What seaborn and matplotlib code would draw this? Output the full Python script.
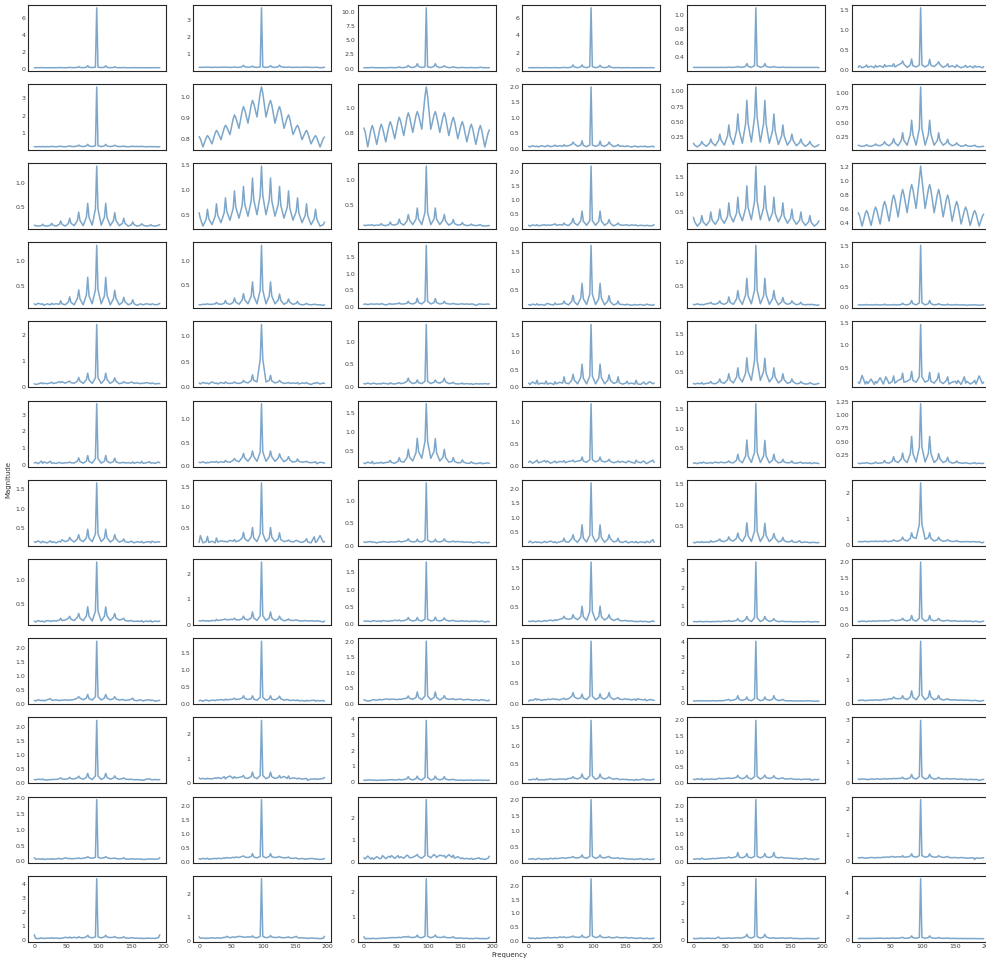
import matplotlib
matplotlib.use('Agg')
import matplotlib.pyplot as plt
from matplotlib.ticker import MaxNLocator
import seaborn as sns

# frequency bins (side lobes sit every ~14 bins around the main line at 97)
FREQ = [0, 2, 6, 11, 13, 15, 20, 25, 27, 29, 34, 39, 41, 43, 48,
        53, 55, 57, 62, 67, 69, 71, 76, 81, 83, 85, 90,
        95, 97, 99, 104, 109, 111, 113, 118, 123, 125, 127, 132,
        137, 139, 141, 146, 151, 153, 155, 160, 165, 167, 169, 174, 179, 181, 183, 188, 193, 195]

# magnitudes, one list per panel (row_col)
mag_1_1 = [0.12, 0.11, 0.12, 0.12, 0.13, 0.12, 0.11, 0.12, 0.12, 0.11, 0.12, 0.12, 0.14, 0.12, 0.11,
           0.13, 0.17, 0.13, 0.12, 0.15, 0.25, 0.15, 0.12, 0.17, 0.36, 0.17, 0.13,
           0.18, 7.20, 0.18, 0.13, 0.17, 0.35, 0.16, 0.12, 0.14, 0.24, 0.14, 0.12,
           0.12, 0.15, 0.12, 0.11, 0.12, 0.13, 0.12, 0.12, 0.11, 0.12, 0.12, 0.11, 0.12, 0.12, 0.11, 0.12, 0.12, 0.12]
mag_1_2 = [0.25, 0.24, 0.25, 0.25, 0.26, 0.25, 0.24, 0.25, 0.25, 0.24, 0.25, 0.25, 0.26, 0.25, 0.24,
           0.25, 0.27, 0.25, 0.24, 0.28, 0.36, 0.28, 0.25, 0.27, 0.32, 0.26, 0.24,
           0.27, 3.70, 0.27, 0.24, 0.27, 0.34, 0.27, 0.24, 0.28, 0.37, 0.28, 0.25,
           0.25, 0.27, 0.25, 0.24, 0.25, 0.25, 0.24, 0.25, 0.25, 0.26, 0.25, 0.24, 0.24, 0.25, 0.25, 0.22, 0.24, 0.25]
mag_1_3 = [0.15, 0.13, 0.14, 0.15, 0.22, 0.15, 0.13, 0.14, 0.15, 0.14, 0.13, 0.15, 0.20, 0.15, 0.14,
           0.18, 0.30, 0.18, 0.15, 0.28, 0.55, 0.28, 0.16, 0.38, 0.85, 0.38, 0.17,
           0.30, 10.80, 0.30, 0.17, 0.38, 0.85, 0.38, 0.16, 0.28, 0.50, 0.28, 0.15,
           0.20, 0.32, 0.20, 0.14, 0.16, 0.22, 0.16, 0.14, 0.15, 0.18, 0.15, 0.13, 0.16, 0.25, 0.16, 0.14, 0.14, 0.15]
mag_1_4 = [0.28, 0.27, 0.28, 0.28, 0.29, 0.28, 0.27, 0.28, 0.30, 0.28, 0.27, 0.28, 0.30, 0.28, 0.27,
           0.29, 0.33, 0.29, 0.28, 0.36, 0.60, 0.36, 0.28, 0.37, 0.60, 0.36, 0.28,
           0.40, 7.20, 0.40, 0.28, 0.36, 0.55, 0.35, 0.28, 0.34, 0.52, 0.34, 0.28,
           0.28, 0.31, 0.28, 0.27, 0.28, 0.29, 0.28, 0.27, 0.28, 0.28, 0.27, 0.28, 0.28, 0.28, 0.27, 0.28, 0.28, 0.27]
mag_1_5 = [0.256, 0.255, 0.255, 0.255, 0.256, 0.255, 0.255, 0.255, 0.256, 0.255, 0.255, 0.255, 0.257, 0.255, 0.255,
           0.256, 0.260, 0.256, 0.255, 0.260, 0.270, 0.260, 0.256, 0.270, 0.310, 0.270, 0.257,
           0.280, 1.110, 0.280, 0.257, 0.270, 0.310, 0.270, 0.256, 0.260, 0.270, 0.260, 0.255,
           0.256, 0.260, 0.256, 0.255, 0.255, 0.256, 0.255, 0.255, 0.255, 0.256, 0.255, 0.255, 0.255, 0.255, 0.255,
           0.255, 0.255, 0.250]
mag_1_6 = [0.06, 0.10, 0.05, 0.08, 0.12, 0.06, 0.09, 0.05, 0.11, 0.07, 0.10, 0.06, 0.13, 0.08, 0.10,
           0.09, 0.15, 0.07, 0.12, 0.16, 0.22, 0.14, 0.06, 0.12, 0.27, 0.10, 0.07,
           0.12, 1.55, 0.12, 0.07, 0.12, 0.26, 0.11, 0.08, 0.15, 0.20, 0.13, 0.06,
           0.10, 0.15, 0.07, 0.10, 0.06, 0.12, 0.09, 0.05, 0.08, 0.11, 0.06, 0.09, 0.05, 0.10, 0.07, 0.08, 0.05, 0.08]

mag_2_1 = [0.22, 0.21, 0.22, 0.21, 0.23, 0.21, 0.22, 0.21, 0.24, 0.22, 0.21, 0.23, 0.25, 0.22, 0.21,
           0.24, 0.26, 0.23, 0.22, 0.25, 0.31, 0.25, 0.22, 0.26, 0.35, 0.26, 0.22,
           0.27, 3.65, 0.27, 0.22, 0.26, 0.35, 0.26, 0.22, 0.25, 0.30, 0.25, 0.22,
           0.23, 0.26, 0.22, 0.21, 0.23, 0.25, 0.22, 0.23, 0.22, 0.24, 0.22, 0.21, 0.22, 0.22, 0.21, 0.22, 0.20, 0.22]
mag_2_2 = [0.81, 0.80, 0.76, 0.804, 0.815, 0.807, 0.775, 0.827, 0.84, 0.831, 0.795, 0.851, 0.865, 0.856, 0.82,
           0.896, 0.915, 0.902, 0.85, 0.934, 0.955, 0.939, 0.875, 0.963, 0.985, 0.969, 0.905,
           1.021, 1.05, 1.021, 0.905, 0.969, 0.985, 0.963, 0.875, 0.939, 0.955, 0.934, 0.85,
           0.902, 0.915, 0.896, 0.82, 0.856, 0.865, 0.851, 0.795, 0.831, 0.84, 0.827, 0.775, 0.807, 0.815, 0.804,
           0.76, 0.80, 0.808]
mag_2_3 = [0.84, 0.81, 0.69, 0.826, 0.86, 0.83, 0.71, 0.838, 0.87, 0.842, 0.73, 0.858, 0.89, 0.863, 0.755,
           0.891, 0.925, 0.896, 0.78, 0.924, 0.96, 0.929, 0.805, 0.937, 0.97, 0.942, 0.83,
           1.094, 1.165, 1.094, 0.83, 0.942, 0.97, 0.937, 0.805, 0.929, 0.96, 0.924, 0.78,
           0.896, 0.925, 0.891, 0.755, 0.863, 0.89, 0.858, 0.73, 0.842, 0.87, 0.838, 0.71, 0.83, 0.86, 0.826,
           0.69, 0.80, 0.825]
mag_2_4 = [0.08, 0.06, 0.10, 0.07, 0.09, 0.06, 0.10, 0.07, 0.08, 0.11, 0.07, 0.09, 0.12, 0.08, 0.10,
           0.08, 0.13, 0.09, 0.10, 0.14, 0.22, 0.16, 0.08, 0.12, 0.26, 0.11, 0.07,
           0.12, 2.00, 0.12, 0.08, 0.12, 0.25, 0.11, 0.08, 0.14, 0.22, 0.15, 0.07,
           0.10, 0.14, 0.08, 0.09, 0.07, 0.10, 0.08, 0.06, 0.09, 0.08, 0.06, 0.08, 0.07, 0.09, 0.06, 0.07, 0.08, 0.06]
mag_2_5 = [0.15, 0.12, 0.09, 0.13, 0.18, 0.14, 0.10, 0.154, 0.22, 0.16, 0.11, 0.196, 0.30, 0.20, 0.12,
           0.27, 0.45, 0.27, 0.13, 0.355, 0.63, 0.36, 0.15, 0.465, 0.85, 0.47, 0.17,
           0.575, 1.07, 0.575, 0.17, 0.47, 0.85, 0.465, 0.15, 0.36, 0.63, 0.355, 0.13,
           0.27, 0.45, 0.27, 0.12, 0.20, 0.30, 0.196, 0.11, 0.16, 0.22, 0.154, 0.10, 0.14, 0.18, 0.13, 0.09, 0.11, 0.13]
mag_2_6 = [0.12, 0.11, 0.10, 0.11, 0.13, 0.11, 0.10, 0.12, 0.14, 0.12, 0.11, 0.14, 0.18, 0.14, 0.11,
           0.16, 0.23, 0.16, 0.11, 0.20, 0.33, 0.20, 0.12, 0.30, 0.54, 0.30, 0.12,
           0.40, 1.10, 0.40, 0.12, 0.30, 0.54, 0.30, 0.12, 0.20, 0.33, 0.20, 0.12,
           0.16, 0.22, 0.15, 0.11, 0.13, 0.16, 0.13, 0.10, 0.11, 0.13, 0.11, 0.10, 0.11, 0.12, 0.10, 0.09, 0.10, 0.10]

mag_3_1 = [0.10, 0.09, 0.08, 0.09, 0.12, 0.09, 0.08, 0.10, 0.14, 0.10, 0.08, 0.12, 0.19, 0.12, 0.08,
           0.14, 0.25, 0.14, 0.09, 0.20, 0.38, 0.20, 0.09, 0.27, 0.57, 0.27, 0.10,
           0.45, 1.37, 0.45, 0.10, 0.27, 0.57, 0.27, 0.09, 0.20, 0.37, 0.20, 0.09,
           0.14, 0.25, 0.14, 0.08, 0.11, 0.17, 0.11, 0.08, 0.10, 0.13, 0.10, 0.08, 0.09, 0.11, 0.09, 0.08, 0.10, 0.11]
mag_3_2 = [0.54, 0.42, 0.27, 0.41, 0.61, 0.42, 0.30, 0.47, 0.72, 0.49, 0.34, 0.54, 0.84, 0.57, 0.39,
           0.63, 0.98, 0.65, 0.43, 0.69, 1.07, 0.71, 0.47, 0.78, 1.24, 0.80, 0.50,
           0.89, 1.48, 0.89, 0.50, 0.80, 1.24, 0.78, 0.47, 0.71, 1.07, 0.69, 0.43,
           0.65, 0.98, 0.63, 0.39, 0.57, 0.84, 0.54, 0.34, 0.49, 0.72, 0.47, 0.30, 0.42, 0.61, 0.41, 0.27, 0.30, 0.35]
mag_3_3 = [0.10, 0.09, 0.10, 0.10, 0.11, 0.09, 0.10, 0.10, 0.13, 0.10, 0.09, 0.11, 0.16, 0.11, 0.10,
           0.13, 0.22, 0.14, 0.10, 0.18, 0.31, 0.20, 0.11, 0.22, 0.44, 0.22, 0.11,
           0.35, 1.27, 0.35, 0.11, 0.22, 0.44, 0.22, 0.11, 0.20, 0.31, 0.18, 0.10,
           0.14, 0.21, 0.13, 0.10, 0.11, 0.15, 0.11, 0.09, 0.10, 0.12, 0.10, 0.09, 0.10, 0.11, 0.09, 0.08, 0.09, 0.09]
mag_3_4 = [0.12, 0.09, 0.13, 0.11, 0.14, 0.10, 0.12, 0.14, 0.11, 0.13, 0.12, 0.15, 0.17, 0.12, 0.14,
           0.13, 0.20, 0.14, 0.11, 0.22, 0.36, 0.20, 0.12, 0.28, 0.62, 0.26, 0.12,
           0.28, 2.20, 0.28, 0.12, 0.26, 0.62, 0.27, 0.12, 0.20, 0.32, 0.19, 0.10,
           0.15, 0.20, 0.14, 0.12, 0.13, 0.14, 0.11, 0.13, 0.12, 0.13, 0.10, 0.12, 0.11, 0.10, 0.12, 0.10, 0.11, 0.14]
mag_3_5 = [0.35, 0.22, 0.10, 0.205, 0.40, 0.22, 0.12, 0.25, 0.50, 0.27, 0.15, 0.30, 0.58, 0.32, 0.18,
           0.38, 0.76, 0.41, 0.22, 0.465, 0.92, 0.485, 0.25, 0.60, 1.24, 0.62, 0.28,
           0.81, 1.80, 0.81, 0.28, 0.62, 1.24, 0.60, 0.25, 0.485, 0.92, 0.465, 0.22,
           0.41, 0.76, 0.38, 0.18, 0.32, 0.58, 0.30, 0.15, 0.27, 0.50, 0.25, 0.12, 0.22, 0.40, 0.205, 0.10, 0.18, 0.25]
mag_3_6 = [0.55, 0.51, 0.36, 0.54, 0.58, 0.54, 0.37, 0.58, 0.63, 0.58, 0.39, 0.65, 0.71, 0.65, 0.43,
           0.73, 0.80, 0.74, 0.49, 0.80, 0.88, 0.81, 0.55, 0.87, 0.95, 0.88, 0.61,
           1.03, 1.21, 1.03, 0.61, 0.88, 0.95, 0.87, 0.55, 0.81, 0.88, 0.80, 0.49,
           0.74, 0.80, 0.73, 0.43, 0.65, 0.71, 0.65, 0.39, 0.58, 0.63, 0.58, 0.37, 0.54, 0.58, 0.54, 0.36, 0.50, 0.53]

mag_4_1 = [0.14, 0.12, 0.15, 0.13, 0.14, 0.11, 0.14, 0.12, 0.15, 0.13, 0.14, 0.13, 0.20, 0.14, 0.12,
           0.18, 0.28, 0.17, 0.12, 0.25, 0.42, 0.24, 0.12, 0.32, 0.67, 0.30, 0.14,
           0.42, 1.31, 0.42, 0.14, 0.30, 0.67, 0.32, 0.12, 0.24, 0.41, 0.25, 0.12,
           0.17, 0.27, 0.18, 0.12, 0.15, 0.22, 0.14, 0.11, 0.14, 0.13, 0.12, 0.14, 0.13, 0.12, 0.14, 0.12, 0.13, 0.15]
mag_4_2 = [0.10, 0.10, 0.11, 0.11, 0.12, 0.11, 0.11, 0.12, 0.15, 0.12, 0.11, 0.13, 0.19, 0.13, 0.11,
           0.15, 0.24, 0.16, 0.11, 0.20, 0.33, 0.20, 0.12, 0.28, 0.57, 0.28, 0.12,
           0.40, 1.32, 0.40, 0.12, 0.28, 0.57, 0.28, 0.12, 0.20, 0.32, 0.19, 0.11,
           0.15, 0.22, 0.15, 0.11, 0.13, 0.17, 0.12, 0.10, 0.11, 0.13, 0.11, 0.10, 0.11, 0.11, 0.10, 0.10, 0.09, 0.10]
mag_4_3 = [0.09, 0.10, 0.08, 0.10, 0.10, 0.09, 0.10, 0.09, 0.11, 0.10, 0.07, 0.10, 0.11, 0.09, 0.10,
           0.11, 0.13, 0.10, 0.10, 0.12, 0.18, 0.12, 0.10, 0.14, 0.27, 0.14, 0.10,
           0.18, 1.84, 0.18, 0.10, 0.14, 0.26, 0.14, 0.10, 0.12, 0.18, 0.12, 0.10,
           0.10, 0.12, 0.10, 0.09, 0.10, 0.11, 0.09, 0.10, 0.09, 0.10, 0.10, 0.06, 0.10, 0.10, 0.09, 0.09, 0.10, 0.09]
mag_4_4 = [0.13, 0.11, 0.14, 0.12, 0.15, 0.12, 0.13, 0.11, 0.14, 0.16, 0.13, 0.12, 0.17, 0.13, 0.14,
           0.15, 0.22, 0.16, 0.12, 0.22, 0.37, 0.20, 0.12, 0.30, 0.68, 0.28, 0.13,
           0.40, 1.67, 0.40, 0.13, 0.28, 0.68, 0.30, 0.12, 0.22, 0.36, 0.20, 0.12,
           0.15, 0.22, 0.14, 0.13, 0.12, 0.14, 0.13, 0.11, 0.13, 0.12, 0.12, 0.13, 0.11, 0.12, 0.14, 0.12, 0.11, 0.13]
mag_4_5 = [0.13, 0.12, 0.14, 0.12, 0.13, 0.12, 0.14, 0.15, 0.17, 0.14, 0.13, 0.16, 0.20, 0.15, 0.13,
           0.17, 0.28, 0.17, 0.13, 0.24, 0.41, 0.24, 0.13, 0.32, 0.66, 0.30, 0.14,
           0.42, 1.33, 0.42, 0.14, 0.30, 0.66, 0.32, 0.13, 0.24, 0.41, 0.24, 0.12,
           0.18, 0.27, 0.17, 0.13, 0.15, 0.20, 0.16, 0.12, 0.14, 0.17, 0.13, 0.12, 0.13, 0.12, 0.13, 0.12, 0.11, 0.12]
mag_4_6 = [0.05, 0.05, 0.05, 0.05, 0.06, 0.05, 0.05, 0.05, 0.06, 0.05, 0.05, 0.05, 0.07, 0.05, 0.05,
           0.05, 0.06, 0.05, 0.05, 0.06, 0.09, 0.06, 0.05, 0.08, 0.16, 0.08, 0.05,
           0.10, 1.52, 0.10, 0.05, 0.08, 0.16, 0.08, 0.05, 0.06, 0.08, 0.06, 0.05,
           0.05, 0.07, 0.05, 0.05, 0.05, 0.06, 0.05, 0.05, 0.05, 0.05, 0.04, 0.05, 0.05, 0.05, 0.05, 0.04, 0.05, 0.05]

mag_5_1 = [0.12, 0.09, 0.11, 0.16, 0.12, 0.14, 0.12, 0.15, 0.18, 0.13, 0.15, 0.20, 0.16, 0.20, 0.14,
           0.20, 0.22, 0.16, 0.14, 0.22, 0.36, 0.22, 0.13, 0.28, 0.53, 0.27, 0.13,
           0.35, 2.42, 0.35, 0.13, 0.27, 0.53, 0.28, 0.13, 0.22, 0.35, 0.21, 0.12,
           0.15, 0.20, 0.16, 0.14, 0.18, 0.17, 0.13, 0.15, 0.12, 0.14, 0.13, 0.16, 0.14, 0.12, 0.15, 0.11, 0.13, 0.12]
mag_5_2 = [0.08, 0.06, 0.09, 0.07, 0.08, 0.06, 0.10, 0.07, 0.08, 0.06, 0.09, 0.07, 0.10, 0.08, 0.07,
           0.08, 0.10, 0.08, 0.07, 0.09, 0.13, 0.10, 0.08, 0.13, 0.24, 0.13, 0.10,
           0.55, 1.23, 0.55, 0.10, 0.13, 0.23, 0.12, 0.08, 0.10, 0.13, 0.10, 0.07,
           0.08, 0.09, 0.07, 0.08, 0.07, 0.09, 0.06, 0.08, 0.07, 0.09, 0.07, 0.05, 0.08, 0.07, 0.09, 0.06, 0.08, 0.07]
mag_5_3 = [0.07, 0.06, 0.08, 0.06, 0.07, 0.08, 0.06, 0.07, 0.06, 0.08, 0.07, 0.06, 0.09, 0.07, 0.06,
           0.08, 0.09, 0.07, 0.08, 0.12, 0.19, 0.12, 0.07, 0.09, 0.15, 0.09, 0.07,
           0.12, 1.38, 0.12, 0.07, 0.10, 0.15, 0.10, 0.08, 0.12, 0.19, 0.11, 0.07,
           0.08, 0.10, 0.07, 0.06, 0.07, 0.08, 0.06, 0.07, 0.06, 0.07, 0.05, 0.07, 0.06, 0.07, 0.06, 0.07, 0.06, 0.07]
mag_5_4 = [0.12, 0.08, 0.15, 0.10, 0.20, 0.09, 0.12, 0.10, 0.18, 0.09, 0.12, 0.08, 0.16, 0.10, 0.14,
           0.12, 0.30, 0.13, 0.10, 0.20, 0.37, 0.20, 0.10, 0.28, 0.66, 0.26, 0.10,
           0.32, 1.79, 0.32, 0.10, 0.26, 0.66, 0.28, 0.10, 0.20, 0.36, 0.20, 0.11,
           0.14, 0.30, 0.13, 0.09, 0.12, 0.17, 0.10, 0.12, 0.09, 0.20, 0.10, 0.08, 0.15, 0.10, 0.09, 0.16, 0.10, 0.12]
mag_5_5 = [0.18, 0.16, 0.18, 0.17, 0.20, 0.16, 0.18, 0.19, 0.23, 0.18, 0.17, 0.22, 0.30, 0.21, 0.18,
           0.28, 0.44, 0.27, 0.19, 0.35, 0.60, 0.34, 0.22, 0.45, 0.87, 0.50, 0.26,
           0.80, 1.77, 0.80, 0.26, 0.50, 0.86, 0.45, 0.22, 0.34, 0.60, 0.35, 0.19,
           0.27, 0.44, 0.28, 0.18, 0.21, 0.30, 0.22, 0.17, 0.18, 0.23, 0.19, 0.16, 0.17, 0.20, 0.18, 0.15, 0.17, 0.18]
mag_5_6 = [0.18, 0.15, 0.33, 0.14, 0.20, 0.15, 0.25, 0.13, 0.20, 0.16, 0.28, 0.14, 0.22, 0.30, 0.15,
           0.20, 0.32, 0.16, 0.22, 0.25, 0.38, 0.18, 0.20, 0.25, 0.42, 0.22, 0.18,
           0.30, 1.46, 0.30, 0.18, 0.22, 0.40, 0.20, 0.16, 0.25, 0.38, 0.20, 0.15,
           0.22, 0.30, 0.14, 0.18, 0.20, 0.15, 0.22, 0.13, 0.30, 0.16, 0.20, 0.14, 0.18, 0.22, 0.14, 0.32, 0.15, 0.18]

mag_6_1 = [0.14, 0.18, 0.10, 0.25, 0.12, 0.20, 0.13, 0.24, 0.12, 0.15, 0.11, 0.18, 0.14, 0.12, 0.15,
           0.16, 0.20, 0.15, 0.14, 0.25, 0.44, 0.22, 0.13, 0.25, 0.58, 0.24, 0.13,
           0.40, 3.64, 0.40, 0.13, 0.24, 0.58, 0.25, 0.14, 0.22, 0.42, 0.20, 0.14,
           0.16, 0.18, 0.14, 0.16, 0.13, 0.20, 0.12, 0.18, 0.14, 0.24, 0.12, 0.15, 0.22, 0.13, 0.16, 0.12, 0.20, 0.15]
mag_6_2 = [0.08, 0.07, 0.09, 0.06, 0.08, 0.07, 0.09, 0.08, 0.10, 0.07, 0.09, 0.08, 0.12, 0.09, 0.08,
           0.12, 0.16, 0.12, 0.09, 0.18, 0.27, 0.17, 0.10, 0.20, 0.32, 0.20, 0.10,
           0.30, 1.33, 0.30, 0.10, 0.20, 0.32, 0.20, 0.10, 0.17, 0.26, 0.18, 0.09,
           0.14, 0.20, 0.13, 0.08, 0.10, 0.15, 0.10, 0.08, 0.09, 0.10, 0.08, 0.07, 0.08, 0.09, 0.05, 0.08, 0.07, 0.06]
mag_6_3 = [0.18, 0.16, 0.20, 0.17, 0.22, 0.16, 0.18, 0.18, 0.20, 0.17, 0.19, 0.20, 0.25, 0.19, 0.17,
           0.22, 0.32, 0.22, 0.20, 0.32, 0.54, 0.33, 0.23, 0.45, 0.83, 0.48, 0.30,
           0.75, 1.74, 0.75, 0.30, 0.48, 0.82, 0.45, 0.23, 0.33, 0.54, 0.32, 0.20,
           0.22, 0.32, 0.22, 0.18, 0.19, 0.26, 0.20, 0.17, 0.17, 0.21, 0.18, 0.16, 0.17, 0.19, 0.16, 0.17, 0.18, 0.17]
mag_6_4 = [0.09, 0.12, 0.07, 0.11, 0.14, 0.08, 0.10, 0.13, 0.09, 0.12, 0.07, 0.10, 0.12, 0.08, 0.11,
           0.10, 0.13, 0.08, 0.11, 0.12, 0.14, 0.10, 0.12, 0.13, 0.21, 0.12, 0.09,
           0.15, 1.42, 0.15, 0.10, 0.13, 0.21, 0.12, 0.10, 0.12, 0.16, 0.11, 0.08,
           0.10, 0.12, 0.09, 0.11, 0.08, 0.10, 0.12, 0.09, 0.07, 0.14, 0.10, 0.08, 0.12, 0.09, 0.06, 0.10, 0.14, 0.09]
mag_6_5 = [0.12, 0.13, 0.11, 0.14, 0.12, 0.15, 0.12, 0.13, 0.14, 0.12, 0.15, 0.13, 0.14, 0.15, 0.13,
           0.15, 0.18, 0.14, 0.13, 0.20, 0.35, 0.20, 0.13, 0.30, 0.71, 0.30, 0.14,
           0.40, 1.63, 0.40, 0.14, 0.30, 0.70, 0.30, 0.13, 0.20, 0.35, 0.20, 0.13,
           0.15, 0.22, 0.15, 0.13, 0.14, 0.18, 0.13, 0.12, 0.14, 0.15, 0.12, 0.13, 0.12, 0.14, 0.11, 0.13, 0.12, 0.11]
mag_6_6 = [0.10, 0.09, 0.10, 0.10, 0.11, 0.10, 0.09, 0.10, 0.12, 0.10, 0.10, 0.11, 0.15, 0.11, 0.10,
           0.14, 0.22, 0.14, 0.11, 0.18, 0.29, 0.17, 0.11, 0.28, 0.60, 0.28, 0.12,
           0.40, 1.21, 0.40, 0.12, 0.28, 0.60, 0.28, 0.11, 0.17, 0.28, 0.18, 0.11,
           0.14, 0.21, 0.13, 0.10, 0.11, 0.14, 0.11, 0.10, 0.10, 0.11, 0.10, 0.09, 0.10, 0.11, 0.09, 0.10, 0.09, 0.10]

mag_7_1 = [0.15, 0.13, 0.17, 0.12, 0.16, 0.14, 0.12, 0.17, 0.13, 0.15, 0.12, 0.16, 0.14, 0.20, 0.15,
           0.18, 0.26, 0.20, 0.14, 0.22, 0.33, 0.20, 0.15, 0.25, 0.47, 0.24, 0.15,
           0.35, 1.66, 0.35, 0.15, 0.24, 0.47, 0.25, 0.14, 0.20, 0.33, 0.22, 0.14,
           0.17, 0.22, 0.15, 0.13, 0.16, 0.14, 0.12, 0.15, 0.13, 0.16, 0.12, 0.14, 0.15, 0.12, 0.16, 0.13, 0.15, 0.14]
mag_7_2 = [0.13, 0.30, 0.12, 0.15, 0.28, 0.13, 0.16, 0.12, 0.24, 0.14, 0.17, 0.15, 0.16, 0.14, 0.18,
           0.16, 0.20, 0.15, 0.17, 0.24, 0.38, 0.22, 0.16, 0.26, 0.50, 0.24, 0.15,
           0.35, 1.61, 0.35, 0.15, 0.24, 0.50, 0.26, 0.15, 0.22, 0.37, 0.20, 0.15,
           0.17, 0.19, 0.16, 0.14, 0.18, 0.17, 0.15, 0.13, 0.17, 0.22, 0.14, 0.12, 0.27, 0.13, 0.15, 0.30, 0.14, 0.15]
mag_7_3 = [0.08, 0.07, 0.08, 0.09, 0.07, 0.08, 0.06, 0.08, 0.07, 0.09, 0.08, 0.07, 0.09, 0.08, 0.08,
           0.09, 0.10, 0.08, 0.09, 0.11, 0.15, 0.10, 0.08, 0.09, 0.14, 0.09, 0.08,
           0.12, 1.40, 0.12, 0.08, 0.09, 0.14, 0.09, 0.08, 0.10, 0.15, 0.10, 0.08,
           0.09, 0.10, 0.08, 0.09, 0.08, 0.09, 0.07, 0.08, 0.07, 0.08, 0.06, 0.07, 0.08, 0.07, 0.06, 0.07, 0.06, 0.07]
mag_7_4 = [0.15, 0.20, 0.14, 0.18, 0.15, 0.17, 0.14, 0.19, 0.15, 0.16, 0.20, 0.15, 0.18, 0.14, 0.17,
           0.20, 0.30, 0.18, 0.16, 0.28, 0.42, 0.25, 0.16, 0.32, 0.76, 0.30, 0.17,
           0.40, 2.20, 0.40, 0.17, 0.30, 0.76, 0.32, 0.16, 0.26, 0.42, 0.28, 0.17,
           0.20, 0.30, 0.18, 0.15, 0.20, 0.16, 0.14, 0.18, 0.15, 0.19, 0.14, 0.17, 0.16, 0.14, 0.19, 0.15, 0.25, 0.16]
mag_7_5 = [0.12, 0.11, 0.13, 0.12, 0.14, 0.12, 0.13, 0.12, 0.16, 0.13, 0.14, 0.17, 0.20, 0.15, 0.14,
           0.18, 0.25, 0.18, 0.15, 0.22, 0.34, 0.22, 0.14, 0.28, 0.58, 0.28, 0.14,
           0.38, 1.52, 0.38, 0.14, 0.28, 0.57, 0.28, 0.14, 0.22, 0.33, 0.22, 0.13,
           0.16, 0.24, 0.16, 0.13, 0.14, 0.17, 0.13, 0.12, 0.16, 0.12, 0.12, 0.13, 0.12, 0.11, 0.12, 0.12, 0.11, 0.12]
mag_7_6 = [0.12, 0.13, 0.12, 0.14, 0.13, 0.12, 0.14, 0.13, 0.15, 0.13, 0.14, 0.13, 0.17, 0.14, 0.13,
           0.15, 0.20, 0.16, 0.14, 0.20, 0.30, 0.20, 0.15, 0.25, 0.47, 0.30, 0.25,
           0.80, 2.41, 0.80, 0.22, 0.28, 0.47, 0.25, 0.15, 0.20, 0.30, 0.20, 0.14,
           0.16, 0.20, 0.16, 0.13, 0.14, 0.17, 0.13, 0.12, 0.13, 0.12, 0.13, 0.12, 0.13, 0.12, 0.11, 0.12, 0.08, 0.11]

mag_8_1 = [0.14, 0.12, 0.15, 0.13, 0.14, 0.12, 0.15, 0.14, 0.13, 0.15, 0.14, 0.16, 0.20, 0.15, 0.16,
           0.20, 0.24, 0.18, 0.15, 0.22, 0.30, 0.20, 0.15, 0.25, 0.44, 0.24, 0.14,
           0.35, 1.38, 0.35, 0.14, 0.24, 0.44, 0.25, 0.15, 0.22, 0.30, 0.20, 0.16,
           0.18, 0.20, 0.15, 0.14, 0.15, 0.14, 0.13, 0.14, 0.13, 0.15, 0.12, 0.14, 0.13, 0.15, 0.12, 0.14, 0.13, 0.14]
mag_8_2 = [0.15, 0.14, 0.16, 0.14, 0.15, 0.13, 0.16, 0.15, 0.20, 0.16, 0.18, 0.20, 0.22, 0.18, 0.20,
           0.20, 0.25, 0.19, 0.18, 0.22, 0.33, 0.22, 0.18, 0.26, 0.50, 0.26, 0.16,
           0.35, 2.47, 0.35, 0.16, 0.26, 0.50, 0.26, 0.16, 0.22, 0.33, 0.22, 0.15,
           0.18, 0.22, 0.17, 0.16, 0.18, 0.17, 0.15, 0.14, 0.16, 0.15, 0.14, 0.15, 0.14, 0.13, 0.15, 0.13, 0.10, 0.14]
mag_8_3 = [0.10, 0.09, 0.10, 0.08, 0.10, 0.11, 0.09, 0.10, 0.08, 0.11, 0.10, 0.09, 0.11, 0.10, 0.12,
           0.11, 0.13, 0.10, 0.11, 0.14, 0.20, 0.13, 0.10, 0.12, 0.20, 0.12, 0.10,
           0.15, 1.80, 0.15, 0.10, 0.12, 0.21, 0.12, 0.10, 0.13, 0.19, 0.13, 0.10,
           0.11, 0.12, 0.10, 0.09, 0.10, 0.11, 0.09, 0.10, 0.08, 0.10, 0.09, 0.10, 0.08, 0.09, 0.10, 0.07, 0.09, 0.08]
mag_8_4 = [0.13, 0.12, 0.14, 0.12, 0.13, 0.14, 0.12, 0.15, 0.13, 0.14, 0.16, 0.14, 0.17, 0.15, 0.18,
           0.20, 0.26, 0.20, 0.18, 0.20, 0.30, 0.22, 0.17, 0.25, 0.52, 0.25, 0.15,
           0.38, 1.66, 0.38, 0.15, 0.25, 0.52, 0.25, 0.16, 0.22, 0.30, 0.20, 0.15,
           0.18, 0.20, 0.15, 0.14, 0.15, 0.14, 0.13, 0.14, 0.12, 0.13, 0.12, 0.13, 0.12, 0.13, 0.12, 0.11, 0.14, 0.12]
mag_8_5 = [0.12, 0.14, 0.12, 0.15, 0.13, 0.12, 0.14, 0.13, 0.12, 0.14, 0.13, 0.15, 0.14, 0.13, 0.16,
           0.15, 0.20, 0.14, 0.16, 0.20, 0.30, 0.18, 0.14, 0.25, 0.42, 0.24, 0.13,
           0.35, 3.45, 0.35, 0.13, 0.24, 0.42, 0.25, 0.14, 0.20, 0.30, 0.19, 0.13,
           0.15, 0.16, 0.14, 0.13, 0.14, 0.13, 0.12, 0.13, 0.12, 0.14, 0.12, 0.13, 0.14, 0.12, 0.11, 0.13, 0.12, 0.11]
mag_8_6 = [0.10, 0.09, 0.11, 0.10, 0.09, 0.11, 0.10, 0.12, 0.10, 0.11, 0.12, 0.11, 0.13, 0.11, 0.12,
           0.15, 0.14, 0.12, 0.13, 0.15, 0.20, 0.14, 0.12, 0.15, 0.29, 0.15, 0.11,
           0.20, 2.00, 0.20, 0.11, 0.15, 0.29, 0.15, 0.12, 0.14, 0.20, 0.14, 0.11,
           0.13, 0.14, 0.12, 0.11, 0.12, 0.11, 0.10, 0.11, 0.10, 0.12, 0.10, 0.11, 0.09, 0.10, 0.11, 0.08, 0.10, 0.11]

mag_9_1 = [0.12, 0.10, 0.14, 0.11, 0.13, 0.10, 0.14, 0.18, 0.13, 0.12, 0.14, 0.11, 0.13, 0.12, 0.14,
           0.12, 0.14, 0.13, 0.15, 0.20, 0.25, 0.20, 0.14, 0.20, 0.33, 0.18, 0.13,
           0.25, 2.23, 0.25, 0.13, 0.20, 0.33, 0.20, 0.14, 0.18, 0.25, 0.17, 0.13,
           0.15, 0.14, 0.12, 0.13, 0.16, 0.20, 0.12, 0.11, 0.14, 0.12, 0.10, 0.13, 0.14, 0.11, 0.13, 0.09, 0.11, 0.12]
mag_9_2 = [0.08, 0.10, 0.07, 0.11, 0.09, 0.08, 0.10, 0.09, 0.11, 0.10, 0.12, 0.10, 0.13, 0.11, 0.12,
           0.13, 0.16, 0.12, 0.13, 0.16, 0.23, 0.15, 0.12, 0.14, 0.23, 0.13, 0.10,
           0.18, 1.85, 0.18, 0.10, 0.14, 0.23, 0.13, 0.11, 0.16, 0.22, 0.14, 0.10,
           0.12, 0.11, 0.09, 0.10, 0.09, 0.11, 0.08, 0.09, 0.07, 0.10, 0.08, 0.09, 0.10, 0.07, 0.09, 0.08, 0.09, 0.07]
mag_9_3 = [0.13, 0.11, 0.08, 0.10, 0.12, 0.13, 0.11, 0.14, 0.12, 0.13, 0.15, 0.14, 0.13, 0.15, 0.14,
           0.13, 0.15, 0.14, 0.16, 0.18, 0.25, 0.17, 0.14, 0.20, 0.38, 0.20, 0.13,
           0.25, 2.02, 0.25, 0.13, 0.20, 0.38, 0.20, 0.12, 0.18, 0.26, 0.17, 0.14,
           0.15, 0.16, 0.13, 0.14, 0.15, 0.13, 0.12, 0.14, 0.13, 0.12, 0.11, 0.13, 0.10, 0.12, 0.13, 0.11, 0.09, 0.12]
mag_9_4 = [0.06, 0.09, 0.08, 0.12, 0.09, 0.11, 0.08, 0.10, 0.09, 0.11, 0.10, 0.12, 0.10, 0.11, 0.09,
           0.12, 0.13, 0.10, 0.12, 0.18, 0.27, 0.16, 0.12, 0.14, 0.23, 0.13, 0.10,
           0.18, 1.52, 0.18, 0.10, 0.14, 0.24, 0.14, 0.11, 0.17, 0.27, 0.16, 0.10,
           0.13, 0.15, 0.11, 0.10, 0.12, 0.10, 0.11, 0.09, 0.11, 0.08, 0.12, 0.10, 0.09, 0.11, 0.07, 0.10, 0.09, 0.08]
mag_9_5 = [0.15, 0.14, 0.16, 0.15, 0.17, 0.14, 0.16, 0.15, 0.14, 0.17, 0.15, 0.16, 0.17, 0.15, 0.18,
           0.22, 0.25, 0.17, 0.20, 0.28, 0.49, 0.24, 0.18, 0.25, 0.40, 0.22, 0.16,
           0.30, 4.04, 0.30, 0.16, 0.22, 0.40, 0.25, 0.18, 0.26, 0.49, 0.27, 0.17,
           0.20, 0.25, 0.18, 0.15, 0.16, 0.15, 0.14, 0.15, 0.14, 0.16, 0.13, 0.15, 0.16, 0.14, 0.15, 0.13, 0.14, 0.13]
mag_9_6 = [0.14, 0.13, 0.15, 0.12, 0.14, 0.13, 0.15, 0.14, 0.16, 0.15, 0.14, 0.17, 0.18, 0.16, 0.20,
           0.20, 0.28, 0.22, 0.20, 0.22, 0.33, 0.22, 0.17, 0.28, 0.54, 0.27, 0.16,
           0.35, 2.64, 0.35, 0.16, 0.27, 0.54, 0.28, 0.16, 0.22, 0.34, 0.20, 0.15,
           0.18, 0.20, 0.16, 0.15, 0.16, 0.15, 0.14, 0.15, 0.13, 0.15, 0.14, 0.13, 0.12, 0.14, 0.13, 0.10, 0.12, 0.13]

mag_10_1 = [0.12, 0.11, 0.13, 0.12, 0.14, 0.11, 0.10, 0.12, 0.11, 0.13, 0.12, 0.15, 0.18, 0.14, 0.13,
            0.15, 0.20, 0.15, 0.14, 0.18, 0.24, 0.17, 0.13, 0.20, 0.34, 0.19, 0.12,
            0.25, 2.23, 0.25, 0.12, 0.19, 0.34, 0.20, 0.13, 0.17, 0.25, 0.17, 0.13,
            0.15, 0.18, 0.14, 0.12, 0.13, 0.12, 0.11, 0.12, 0.10, 0.11, 0.09, 0.13, 0.15, 0.12, 0.11, 0.12, 0.11, 0.12]
mag_10_2 = [0.20, 0.16, 0.18, 0.15, 0.19, 0.17, 0.16, 0.20, 0.18, 0.22, 0.17, 0.25, 0.16, 0.22, 0.28,
            0.18, 0.26, 0.20, 0.22, 0.25, 0.30, 0.20, 0.18, 0.26, 0.44, 0.24, 0.17,
            0.30, 2.57, 0.30, 0.17, 0.24, 0.44, 0.25, 0.18, 0.22, 0.30, 0.20, 0.26,
            0.18, 0.28, 0.17, 0.20, 0.18, 0.16, 0.19, 0.15, 0.17, 0.18, 0.10, 0.16, 0.15, 0.17, 0.14, 0.16, 0.18, 0.22]
mag_10_3 = [0.12, 0.11, 0.13, 0.14, 0.12, 0.13, 0.11, 0.12, 0.14, 0.12, 0.13, 0.15, 0.14, 0.16, 0.13,
            0.15, 0.18, 0.14, 0.16, 0.22, 0.35, 0.20, 0.14, 0.22, 0.38, 0.20, 0.13,
            0.30, 3.93, 0.30, 0.13, 0.20, 0.38, 0.22, 0.14, 0.20, 0.35, 0.19, 0.14,
            0.16, 0.18, 0.14, 0.12, 0.13, 0.12, 0.11, 0.13, 0.12, 0.14, 0.11, 0.13, 0.12, 0.14, 0.11, 0.12, 0.11, 0.12]
mag_10_4 = [0.08, 0.07, 0.09, 0.08, 0.12, 0.07, 0.08, 0.07, 0.09, 0.08, 0.10, 0.08, 0.09, 0.08, 0.10,
            0.09, 0.10, 0.08, 0.11, 0.12, 0.16, 0.12, 0.10, 0.14, 0.23, 0.13, 0.09,
            0.18, 1.68, 0.18, 0.09, 0.13, 0.23, 0.14, 0.10, 0.12, 0.15, 0.12, 0.09,
            0.11, 0.10, 0.08, 0.09, 0.08, 0.09, 0.07, 0.08, 0.06, 0.09, 0.07, 0.08, 0.10, 0.07, 0.08, 0.07, 0.08, 0.09]
mag_10_5 = [0.12, 0.10, 0.13, 0.11, 0.14, 0.10, 0.12, 0.11, 0.13, 0.12, 0.11, 0.14, 0.15, 0.13, 0.14,
            0.15, 0.16, 0.14, 0.15, 0.18, 0.24, 0.17, 0.13, 0.18, 0.24, 0.16, 0.12,
            0.20, 2.00, 0.20, 0.12, 0.18, 0.25, 0.17, 0.14, 0.17, 0.23, 0.16, 0.13,
            0.15, 0.16, 0.13, 0.12, 0.14, 0.13, 0.12, 0.11, 0.12, 0.10, 0.11, 0.12, 0.11, 0.13, 0.08, 0.11, 0.10, 0.12]
mag_10_6 = [0.18, 0.16, 0.19, 0.17, 0.18, 0.15, 0.19, 0.17, 0.18, 0.20, 0.17, 0.19, 0.21, 0.18, 0.20,
            0.19, 0.22, 0.20, 0.21, 0.22, 0.27, 0.20, 0.19, 0.25, 0.40, 0.24, 0.18,
            0.30, 2.98, 0.30, 0.18, 0.24, 0.40, 0.25, 0.18, 0.21, 0.27, 0.20, 0.19,
            0.20, 0.21, 0.18, 0.19, 0.20, 0.18, 0.17, 0.19, 0.16, 0.18, 0.15, 0.17, 0.16, 0.15, 0.17, 0.12, 0.16, 0.17]

mag_11_1 = [0.12, 0.07, 0.08, 0.07, 0.09, 0.06, 0.08, 0.07, 0.09, 0.07, 0.08, 0.10, 0.07, 0.08, 0.11,
            0.09, 0.10, 0.08, 0.09, 0.10, 0.11, 0.09, 0.10, 0.12, 0.15, 0.12, 0.10,
            0.13, 1.96, 0.13, 0.10, 0.12, 0.15, 0.12, 0.09, 0.10, 0.11, 0.09, 0.08,
            0.09, 0.12, 0.08, 0.07, 0.08, 0.09, 0.07, 0.08, 0.07, 0.08, 0.06, 0.07, 0.08, 0.07, 0.08, 0.07, 0.08, 0.12]
mag_11_2 = [0.12, 0.10, 0.13, 0.11, 0.14, 0.10, 0.12, 0.13, 0.11, 0.14, 0.12, 0.15, 0.13, 0.16, 0.14,
            0.17, 0.15, 0.18, 0.16, 0.20, 0.22, 0.18, 0.16, 0.20, 0.30, 0.18, 0.15,
            0.20, 2.22, 0.20, 0.15, 0.20, 0.30, 0.19, 0.16, 0.18, 0.20, 0.17, 0.15,
            0.16, 0.18, 0.14, 0.13, 0.15, 0.12, 0.11, 0.13, 0.10, 0.12, 0.11, 0.13, 0.12, 0.10, 0.11, 0.09, 0.11, 0.13]
mag_11_3 = [0.20, 0.15, 0.28, 0.14, 0.20, 0.13, 0.25, 0.15, 0.18, 0.30, 0.16, 0.27, 0.22, 0.30, 0.17,
            0.30, 0.20, 0.25, 0.18, 0.32, 0.28, 0.20, 0.22, 0.30, 0.35, 0.25, 0.18,
            0.30, 2.85, 0.30, 0.20, 0.35, 0.30, 0.22, 0.32, 0.28, 0.30, 0.20, 0.34,
            0.22, 0.32, 0.18, 0.25, 0.16, 0.20, 0.15, 0.17, 0.14, 0.18, 0.13, 0.16, 0.20, 0.14, 0.16, 0.12, 0.18, 0.27]
mag_11_4 = [0.10, 0.09, 0.11, 0.08, 0.10, 0.12, 0.09, 0.10, 0.11, 0.09, 0.12, 0.10, 0.13, 0.11, 0.12,
            0.14, 0.13, 0.12, 0.14, 0.15, 0.18, 0.14, 0.13, 0.16, 0.23, 0.15, 0.12,
            0.18, 2.03, 0.18, 0.12, 0.16, 0.23, 0.15, 0.13, 0.17, 0.18, 0.14, 0.12,
            0.13, 0.14, 0.11, 0.12, 0.10, 0.11, 0.09, 0.10, 0.08, 0.10, 0.09, 0.11, 0.08, 0.09, 0.10, 0.08, 0.09, 0.10]
mag_11_5 = [0.11, 0.10, 0.12, 0.10, 0.14, 0.11, 0.10, 0.12, 0.11, 0.13, 0.12, 0.14, 0.13, 0.15, 0.14,
            0.16, 0.18, 0.15, 0.16, 0.20, 0.34, 0.18, 0.15, 0.20, 0.30, 0.18, 0.15,
            0.20, 2.22, 0.20, 0.15, 0.20, 0.30, 0.19, 0.16, 0.20, 0.34, 0.18, 0.15,
            0.17, 0.16, 0.14, 0.15, 0.13, 0.14, 0.12, 0.13, 0.10, 0.12, 0.11, 0.14, 0.10, 0.11, 0.12, 0.09, 0.11, 0.12]
mag_11_6 = [0.12, 0.11, 0.13, 0.10, 0.12, 0.11, 0.13, 0.12, 0.11, 0.13, 0.12, 0.14, 0.13, 0.15, 0.14,
            0.17, 0.16, 0.14, 0.16, 0.15, 0.20, 0.14, 0.15, 0.18, 0.27, 0.17, 0.14,
            0.20, 2.36, 0.20, 0.14, 0.17, 0.27, 0.18, 0.14, 0.15, 0.20, 0.16, 0.13,
            0.15, 0.17, 0.13, 0.12, 0.13, 0.12, 0.11, 0.13, 0.11, 0.12, 0.10, 0.11, 0.12, 0.05, 0.11, 0.10, 0.11, 0.12]

mag_12_1 = [0.40, 0.15, 0.12, 0.18, 0.15, 0.14, 0.16, 0.15, 0.20, 0.15, 0.17, 0.14, 0.16, 0.15, 0.22,
            0.18, 0.24, 0.17, 0.22, 0.18, 0.26, 0.20, 0.18, 0.25, 0.36, 0.24, 0.18,
            0.25, 4.36, 0.25, 0.18, 0.25, 0.36, 0.24, 0.20, 0.22, 0.28, 0.20, 0.17,
            0.20, 0.26, 0.18, 0.16, 0.18, 0.20, 0.15, 0.16, 0.14, 0.17, 0.13, 0.15, 0.16, 0.14, 0.15, 0.14, 0.20, 0.40]
mag_12_2 = [0.18, 0.12, 0.13, 0.11, 0.13, 0.12, 0.14, 0.12, 0.13, 0.14, 0.12, 0.16, 0.15, 0.20, 0.14,
            0.18, 0.15, 0.17, 0.20, 0.18, 0.17, 0.16, 0.18, 0.17, 0.22, 0.16, 0.14,
            0.20, 2.63, 0.20, 0.14, 0.17, 0.23, 0.17, 0.15, 0.16, 0.18, 0.15, 0.14,
            0.16, 0.18, 0.14, 0.15, 0.20, 0.15, 0.13, 0.14, 0.12, 0.13, 0.11, 0.13, 0.12, 0.11, 0.12, 0.10, 0.12, 0.20]
mag_12_3 = [0.18, 0.10, 0.11, 0.10, 0.12, 0.11, 0.10, 0.12, 0.11, 0.13, 0.12, 0.14, 0.13, 0.15, 0.14,
            0.15, 0.16, 0.14, 0.18, 0.17, 0.20, 0.16, 0.15, 0.17, 0.25, 0.16, 0.14,
            0.20, 2.56, 0.20, 0.14, 0.18, 0.25, 0.17, 0.15, 0.16, 0.20, 0.15, 0.14,
            0.15, 0.18, 0.13, 0.12, 0.13, 0.12, 0.11, 0.12, 0.10, 0.11, 0.10, 0.12, 0.11, 0.10, 0.11, 0.10, 0.11, 0.16]
mag_12_4 = [0.12, 0.09, 0.10, 0.08, 0.11, 0.09, 0.10, 0.12, 0.10, 0.13, 0.11, 0.12, 0.13, 0.11, 0.14,
            0.13, 0.15, 0.12, 0.13, 0.15, 0.18, 0.14, 0.13, 0.14, 0.21, 0.14, 0.12,
            0.18, 2.26, 0.18, 0.12, 0.15, 0.21, 0.14, 0.12, 0.13, 0.15, 0.12, 0.11,
            0.14, 0.13, 0.12, 0.11, 0.13, 0.11, 0.10, 0.12, 0.09, 0.10, 0.09, 0.11, 0.08, 0.09, 0.10, 0.08, 0.09, 0.10]
mag_12_5 = [0.12, 0.09, 0.10, 0.11, 0.13, 0.10, 0.11, 0.12, 0.10, 0.11, 0.10, 0.18, 0.12, 0.10, 0.11,
            0.12, 0.14, 0.11, 0.12, 0.13, 0.15, 0.12, 0.14, 0.20, 0.32, 0.18, 0.12,
            0.20, 3.26, 0.20, 0.12, 0.18, 0.32, 0.18, 0.13, 0.12, 0.15, 0.11, 0.12,
            0.13, 0.14, 0.11, 0.12, 0.13, 0.12, 0.10, 0.11, 0.09, 0.10, 0.09, 0.10, 0.11, 0.09, 0.10, 0.09, 0.10, 0.13]
mag_12_6 = [0.15, 0.14, 0.16, 0.15, 0.14, 0.16, 0.15, 0.17, 0.15, 0.16, 0.18, 0.16, 0.15, 0.17, 0.16,
            0.18, 0.20, 0.16, 0.17, 0.22, 0.25, 0.18, 0.17, 0.22, 0.37, 0.21, 0.17,
            0.25, 5.23, 0.25, 0.17, 0.22, 0.37, 0.22, 0.17, 0.18, 0.24, 0.18, 0.16,
            0.17, 0.20, 0.15, 0.16, 0.15, 0.16, 0.14, 0.15, 0.14, 0.16, 0.13, 0.15, 0.14, 0.15, 0.13, 0.14, 0.13, 0.14]


def main():
    panels = [
        [mag_1_1, mag_1_2, mag_1_3, mag_1_4, mag_1_5, mag_1_6],
        [mag_2_1, mag_2_2, mag_2_3, mag_2_4, mag_2_5, mag_2_6],
        [mag_3_1, mag_3_2, mag_3_3, mag_3_4, mag_3_5, mag_3_6],
        [mag_4_1, mag_4_2, mag_4_3, mag_4_4, mag_4_5, mag_4_6],
        [mag_5_1, mag_5_2, mag_5_3, mag_5_4, mag_5_5, mag_5_6],
        [mag_6_1, mag_6_2, mag_6_3, mag_6_4, mag_6_5, mag_6_6],
        [mag_7_1, mag_7_2, mag_7_3, mag_7_4, mag_7_5, mag_7_6],
        [mag_8_1, mag_8_2, mag_8_3, mag_8_4, mag_8_5, mag_8_6],
        [mag_9_1, mag_9_2, mag_9_3, mag_9_4, mag_9_5, mag_9_6],
        [mag_10_1, mag_10_2, mag_10_3, mag_10_4, mag_10_5, mag_10_6],
        [mag_11_1, mag_11_2, mag_11_3, mag_11_4, mag_11_5, mag_11_6],
        [mag_12_1, mag_12_2, mag_12_3, mag_12_4, mag_12_5, mag_12_6],
    ]

    sns.set_style('white')
    plt.rcParams['font.family'] = ['DejaVu Sans']

    fig, axes = plt.subplots(12, 6, figsize=(9.87, 9.58), dpi=100, sharex=True)
    fig.subplots_adjust(left=0.0284, right=1.003, top=0.995, bottom=0.017, wspace=0.194, hspace=0.2)

    for r, row in enumerate(panels):
        for c, mag in enumerate(row):
            ax = axes[r, c]
            sns.lineplot(x=FREQ, y=mag, ax=ax, color='steelblue', alpha=0.7, linewidth=1.1)
            ax.yaxis.set_major_locator(MaxNLocator(nbins=5, steps=[1, 2, 2.5, 5, 10]))
            ax.tick_params(labelsize=4.5, length=0, pad=2, colors='0.25')
            ax.set_xlabel('')
            ax.set_ylabel('')

    axes[-1, 0].set_xticks([0, 50, 100, 150, 200])

    fig.text(0.516, 0.0, 'Frequency', ha='center', va='bottom', fontsize=5, color='0.2')
    fig.text(0.008, 0.499, 'Magnitude', ha='center', va='center', rotation=90, fontsize=5, color='0.2')

    fig.savefig('out.png', dpi=100)
    plt.close(fig)


if __name__ == "__main__":
    main()
